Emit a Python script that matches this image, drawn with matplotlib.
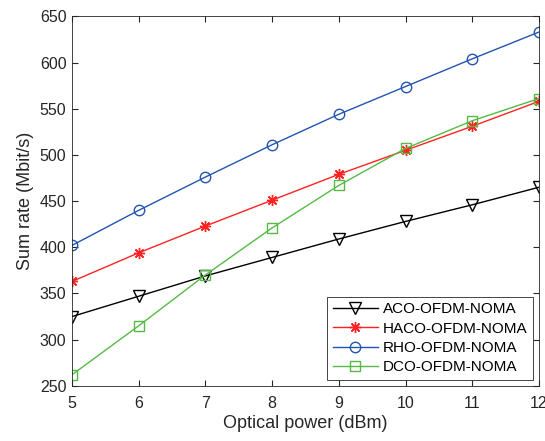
import numpy as np
import matplotlib
matplotlib.use('Agg')
import matplotlib.pyplot as plt

plt.rcParams['font.family'] = ['Liberation Sans', 'DejaVu Sans']

power = [5, 6, 7, 8, 9, 10, 11, 12]
aco = [325, 347, 369, 389, 409, 428, 446, 465]
haco = [363, 394, 423, 451, 479, 505, 531, 558]
rho = [402, 440, 476, 511, 544, 574, 604, 633]
dco = [262, 315, 370, 421, 467, 507, 537, 561]

fig = plt.figure(figsize=(5.45, 4.41), dpi=100)
ax = fig.add_axes([0.132, 0.125, 0.857, 0.838])

ax.plot(power, aco, color='black', marker='v', ms=8.5, mfc='none', lw=1, label='ACO-OFDM-NOMA')
ax.plot(power, haco, color='#ff2222', marker=(8, 2, 0), ms=8, mew=1, lw=1, label='HACO-OFDM-NOMA')
ax.plot(power, rho, color='#2255b0', marker='o', ms=7.5, mfc='none', lw=1, label='RHO-OFDM-NOMA')
ax.plot(power, dco, color='#55bb44', marker='s', ms=6.5, mfc='none', lw=1, label='DCO-OFDM-NOMA')

ax.set_xlim(5, 12)
ax.set_ylim(250, 650)
ax.set_xticks(power)
ax.set_yticks(np.arange(250, 651, 50))
gray = '#262626'
ax.tick_params(direction='in', top=True, right=True, colors=gray, labelsize=11.5, length=4, pad=4)
ax.tick_params(axis='x', pad=7)
for s in ax.spines.values():
    s.set_color('#262626')
    s.set_linewidth(0.6)
ax.set_xlabel('Optical power (dBm)', fontsize=13, color=gray, labelpad=3)
ax.set_ylabel('Sum rate (Mbit/s)', fontsize=13, color=gray, labelpad=4)

leg = ax.legend(loc='lower right', fontsize=11, fancybox=False, edgecolor=gray,
                framealpha=1, handlelength=3.0, borderpad=0.35, labelspacing=0.35,
                handletextpad=0.3, borderaxespad=0.4)
leg.get_frame().set_linewidth(0.6)

fig.savefig('out.png', dpi=100)
